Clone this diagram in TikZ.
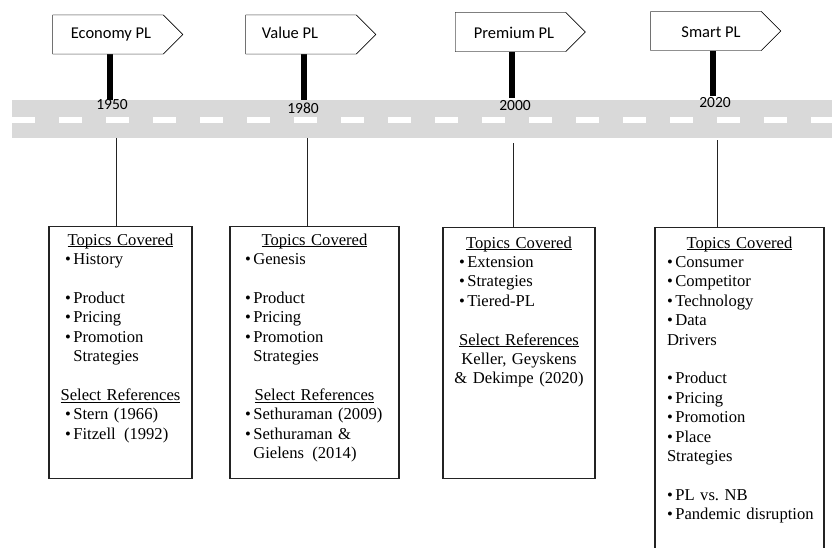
\documentclass[tikz,border=0pt]{standalone}
\usepackage{fontspec}
\setmainfont{Liberation Serif}
\newfontfamily\signfont{Carlito}
\usetikzlibrary{shapes.symbols}
\definecolor{roadgray}{RGB}{217,217,217}
\definecolor{boxline}{RGB}{35,35,35}
\newcommand{\itm}{\textbullet\hspace{2.5pt}}
\newcommand{\ind}{\hphantom{\itm}}
\newcommand{\hd}[1]{{\centering\strut\underline{\smash{#1}}\par}}
\newcommand{\gap}{\vspace{19.4pt}}
\newcommand{\lskip}[1]{\setlength{\parindent}{0pt}\setlength{\leftskip}{#1}}

\begin{document}
\begin{tikzpicture}
[x=1pt,y=-1pt,
sign/.style={draw,fill=white,signal,signal to=east,signal pointer angle=90,minimum width=130pt,minimum height=39pt,inner sep=0pt},
signtext/.style={inner sep=0pt,font=\signfont\fontsize{16.5}{19}\selectfont},
year/.style={inner sep=0pt,font=\signfont\fontsize{15.5}{18}\selectfont},
post/.style={line width=6pt},
link/.style={draw=boxline,line width=0.8pt},
topicbox/.style={draw=boxline,line width=1.1pt,inner sep=0pt,anchor=north},
topictext/.style={anchor=north,inner sep=0pt,align=left,font=\fontsize{16.6}{19.4}\selectfont}]
\useasboundingbox (0,0) rectangle (832,547);
% road
\fill[roadgray] (12,100) rectangle (832,138);
\draw[white,line width=6.5pt,dash pattern=on 23pt off 24pt] (12,120) -- (832,120);
% sign posts
\coordinate (p1) at (110,100);
\coordinate (p2) at (304,100);
\coordinate (p3) at (512,98);
\coordinate (p4) at (713,96);
\node[sign] (s1) at (108,34.5) {};
\node[sign] (s2) at (301,34.5) {};
\node[sign] (s3) at (510.5,32) {};
\node[sign] (s4) at (706,31) {};
\foreach \p/\s in {p1/s1,p2/s2,p3/s3,p4/s4}
\draw[post] (\p) -- (\p |- \s.south);
\foreach \s in {s1,s2,s3,s4}
\node[sign] at (\s) {};
\node[signtext] (t1) at (111,35) {Economy PL};
\node[signtext] (t2) at (290,33) {Value PL};
\node[signtext] (t3) at (514,33) {Premium PL};
\node[signtext] (t4) at (711,32) {Smart PL};
\node[year] (y1) at (112,105) {1950};
\node[year] (y2) at (303,108) {1980};
\node[year] (y3) at (515,105.5) {2000};
\node[year] (y4) at (715,103) {2020};
% boxes
\node[topicbox,minimum width=143pt,minimum height=252pt] (box1) at (120.5,226) {};
\node[topicbox,minimum width=169pt,minimum height=252pt] (box2) at (314.5,226) {};
\node[topicbox,minimum width=152pt,minimum height=251pt] (box3) at (519,227) {};
\node[topicbox,minimum width=169pt,minimum height=333pt] (box4) at (739.5,227) {};
\coordinate (r1) at (116,138);
\coordinate (r2) at (307,138);
\coordinate (r3) at (513,143);
\coordinate (r4) at (717,140);
\foreach \r/\b in {r1/box1,r2/box2,r3/box3,r4/box4}
\draw[link] (\r) -- (\r |- \b.north);
\node[topictext,text width=127pt] (txt1) at ([yshift=-5.4pt]box1.north) {\lskip{8pt}%
\hd{Topics Covered}
\itm History\par\gap
\itm Product\par
\itm Pricing\par
\itm Promotion\par
\ind Strategies\par\gap
\hd{Select References}
\itm Stern (1966)\par
\itm Fitzell\, (1992)\par};
\node[topictext,text width=153pt] (txt2) at ([yshift=-5.4pt]box2.north) {\lskip{7pt}%
\hd{Topics Covered}
\itm Genesis\par\gap
\itm Product\par
\itm Pricing\par
\itm Promotion\par
\ind Strategies\par\gap
\hd{Select References}
\itm Sethuraman (2009)\par
\itm Sethuraman \&\par
\ind Gielens\, (2014)\par};
\node[topictext,text width=136pt] (txt3) at ([yshift=-7.4pt]box3.north) {\lskip{8pt}%
\hd{Topics Covered}
\itm Extension\par
\itm Strategies\par
\itm Tiered-PL\par\gap
\hd{Select References}
{\centering Keller, Geyskens\par
\& Dekimpe (2020)\par}};
\node[topictext,text width=153pt] (txt4) at ([yshift=-7.4pt]box4.north) {\lskip{4pt}%
\hd{Topics Covered}
\itm Consumer\par
\itm Competitor\par
\itm Technology\par
\itm Data\par
Drivers\par\gap
\itm Product\par
\itm Pricing\par
\itm Promotion\par
\itm Place\par
Strategies\par\gap
\itm PL vs.\ NB\par
\itm Pandemic disruption\par};
\end{tikzpicture}
\end{document}
